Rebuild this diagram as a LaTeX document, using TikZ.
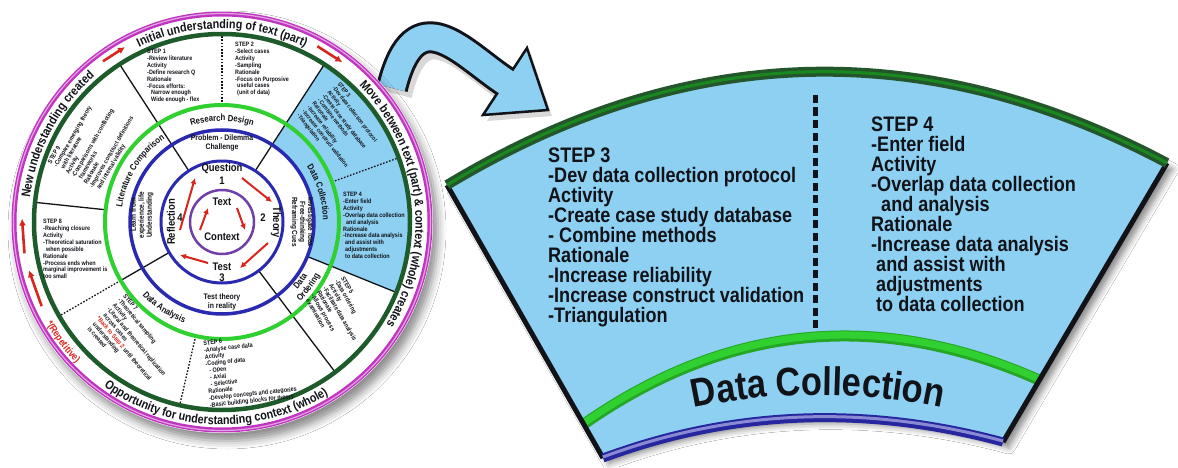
\documentclass[tikz,border=0pt]{standalone}
\usepackage{fontspec}
\setmainfont{Liberation Sans}
\newfontfamily\cf[FakeStretch=0.86]{Liberation Sans}
\usetikzlibrary{decorations.text,arrows.meta,shadows.blur}
\definecolor{lblue}{HTML}{8DD0F2}
\definecolor{dgreen}{HTML}{1E5B2B}
\definecolor{pgreen}{HTML}{24562C}
\definecolor{bgreen}{HTML}{2FD02F}
\definecolor{rblue}{HTML}{2A2AB0}
\definecolor{magring}{HTML}{C035C0}
\definecolor{purp}{HTML}{7040A8}
\definecolor{arrred}{HTML}{D8261E}
\definecolor{ink}{HTML}{111318}
\newcommand{\FOuter}{\cf\bfseries\fontsize{12.5}{12.5}\selectfont}
\newcommand{\FBand}{\cf\bfseries\fontsize{9}{9}\selectfont}
\newcommand{\FRep}{\cf\bfseries\fontsize{10}{10}\selectfont}
\newcommand{\FBig}{\cf\bfseries\fontsize{40}{40}\selectfont}
\tikzset{
  sep/.style={line width=1.3pt, ink},
  dots/.style={sep, dash pattern=on 1.6pt off 1.6pt},
  redarr/.style={arrred, line width=2.6pt, -{Latex[length=7pt,width=7pt]}},
  redarrs/.style={arrred, line width=2pt, -{Latex[length=6pt,width=6pt]}},
  smalltxt/.style={font=\cf\bfseries\fontsize{6.3}{6.9}\selectfont, align=left, inner sep=0pt, text=ink},
  midtxt/.style={font=\cf\bfseries\fontsize{8}{8.6}\selectfont, align=center, inner sep=0pt, text=ink},
  ringtxt/.style={font=\cf\bfseries\fontsize{11}{11}\selectfont, inner sep=0pt, text=ink},
  bigtxt/.style={font=\cf\bfseries\fontsize{21}{20}\selectfont, align=left, inner sep=0pt, text=ink},
  curv/.style={decorate, decoration={text along path, text align=center, text={#1}}},
}
\begin{document}
\begin{tikzpicture}[x=1pt,y=1pt]
\useasboundingbox (0,0) rectangle (1178,467);
\fill[white] (0,0) rectangle (1178,467);

% ---------- curved arrow ----------
\draw[black!30, opacity=0.5, line width=32pt] (396,373) .. controls (419,466) and (466,408) .. (509,379.5);
\fill[black!30, opacity=0.5] (487,346) -- (552,351) -- (531,413) -- cycle;
\draw[ink, line width=32pt] (392,379) .. controls (415,472) and (462,414) .. (505,385.5);
\draw[ink, line width=2.5pt, fill=lblue, line join=miter] (483,352) -- (548,357) -- (527,419) -- cycle;
\draw[lblue, line width=26pt] (392,379) .. controls (415,472) and (462,414) .. (505,385.5) -- (512,381);

% ---------- right panel ----------
\fill[lblue, blur shadow={shadow xshift=6pt, shadow yshift=-6pt, shadow blur radius=6pt, shadow opacity=45}]
  (447,282) .. controls (684,425) and (924,433) .. (1167,304) -- (1003,25)
  .. controls (866,62) and (732,57) .. (603,9) -- cycle;
\begin{scope}
  \clip (447,282) .. controls (684,425) and (924,433) .. (1167,304) -- (1003,25)
  .. controls (866,62) and (732,57) .. (603,9) -- cycle;
  \draw[bgreen!80!black, line width=11pt] (584,43) .. controls (727,143) and (879,158) .. (1039,87);
  \draw[bgreen, line width=7pt] (584,44) .. controls (727,144) and (879,159) .. (1039,88);
  \draw[ink, line width=5pt, dash pattern=on 8pt off 4.5pt] (815,372) -- (815,136);
\end{scope}
\draw[ink, line width=5pt] (447,282) -- (603,9);
\draw[ink, line width=5pt] (1167,304) -- (1003,25);
\draw[pgreen, line width=10pt] (447,282) .. controls (684,425) and (924,433) .. (1167,304);
\draw[pgreen!70!green, line width=3pt] (447,282) .. controls (684,425) and (924,433) .. (1167,304);
\draw[rblue!90!black, line width=9pt] (603,9) .. controls (732,57) and (866,62) .. (1003,25);
\draw[rblue!55!white, line width=3pt] (603,10) .. controls (732,58) and (866,63) .. (1003,26);

\node[bigtxt, anchor=north west] (b3) at (548,319) {STEP 3\\-Dev data collection protocol\\Activity\\-Create case study database\\- Combine methods\\Rationale\\-Increase reliability\\-Increase construct validation\\-Triangulation};
\node[bigtxt, anchor=north west] (b4) at (871,350) {STEP 4\\-Enter field\\Activity\\-Overlap data collection\\\hspace{10pt}and analysis\\Rationale\\-Increase data analysis\\\hspace{5pt}and assist with\\\hspace{5pt}adjustments\\\hspace{5pt}to data collection};
\path[curv={|\FBig\color{ink}|Data Collection}] (818,-528) ++(105:600pt) arc[start angle=105, end angle=75, radius=600pt];

% ---------- circle ----------
\begin{scope}[shift={(222,245)}]
  \fill[white, blur shadow={shadow xshift=5pt, shadow yshift=-8pt, shadow blur radius=8pt, shadow opacity=45}] (0,0) circle[radius=211pt];
  \fill[lblue] (-22:92pt) arc[start angle=-22, end angle=57, radius=92pt] -- (57:188pt) arc[start angle=57, end angle=-22, radius=188pt] -- cycle;
  \draw[sep] (123:61pt) -- (123:188pt);
  \draw[sep] (57:61pt) -- (57:188pt);
  \draw[sep] (-22:92pt) -- (-22:188pt);
  \draw[sep] (-53:61pt) -- (-53:188pt);
  \draw[sep] (210:61pt) -- (210:117pt);
  \draw[sep] (174:117pt) -- (174:188pt);
  \draw[dots] (90:117pt) -- (90:188pt);
  \draw[dots] (20:117pt) -- (20:188pt);
  \draw[dots] (-103:117pt) -- (-103:188pt);
  \draw[dots] (210:117pt) -- (210:188pt);
  \draw[magring, line width=5pt] (0,0) circle[radius=208pt];
  \draw[magring!45!white, line width=1.2pt] (0,0) circle[radius=208.5pt];
  \draw[dgreen, line width=4.5pt] (0,0) circle[radius=188pt];
  \draw[bgreen, line width=4pt] (0,0) circle[radius=117pt];
  \draw[rblue, line width=3.5pt] (0,0) circle[radius=92pt];
  \draw[rblue, line width=3pt] (0,0) circle[radius=61pt];
  \draw[purp, line width=2.5pt] (0,0) circle[radius=32pt];

  % outer band texts
  \path[curv={|\FOuter\color{ink}|New understanding created}] (197:193.5pt) arc[start angle=197, end angle=107, radius=193.5pt];
  \path[curv={|\FOuter\color{ink}|Initial understanding of text (part)}] (135:193.5pt) arc[start angle=135, end angle=45, radius=193.5pt];
  \path[curv={|\FOuter\color{ink}|Move between text (part) {\&} context (whole) creates}] (66.5:193.5pt) arc[start angle=66.5, end angle=-53.5, radius=193.5pt];
  \path[curv={|\FOuter\color{ink}|Opportunity for understanding context (whole)}] (208:202.5pt) arc[start angle=208, end angle=328, radius=202.5pt];
  \path[curv={|\FRep\color{arrred}|*(Repetitive)}] (197:203pt) arc[start angle=197, end angle=237, radius=203pt];
  \draw[redarr] (126.5:200pt) -- (119:200pt);
  \draw[redarr] (61.5:200pt) -- (53:200pt);
  \draw[redarr] (189:200pt) -- (179:200pt);
  \draw[redarr] (205:199pt) -- (194:199pt);

  % band labels
  \path[curv={|\FBand\color{ink}|Research Design}] (130:101pt) arc[start angle=130, end angle=50, radius=101pt];
  \path[curv={|\FBand\color{ink}|Data Collection}] (57:101pt) arc[start angle=57, end angle=-23, radius=101pt];
  \path[curv={|\FBand\color{ink}|Data}] (-67:101pt) arc[start angle=-67, end angle=-7, radius=101pt];
  \path[curv={|\FBand\color{ink}|Ordering}] (-67:111.5pt) arc[start angle=-67, end angle=-7, radius=111.5pt];
  \path[curv={|\FBand\color{ink}|Data Analysis}] (206:108pt) arc[start angle=206, end angle=266, radius=108pt];
  \path[curv={|\FBand\color{ink}|Literature Comparison}] (188:101pt) arc[start angle=188, end angle=108, radius=101pt];

  % inner band texts
  \node[midtxt] (pd) at (0,79) {Problem - Dilemma\\Challenge};
  \node[midtxt, rotate=-90, font=\cf\bfseries\fontsize{7.5}{8}\selectfont] (ii) at (80,0) {Investigate idea\\Free-thinking\\Reframing Cues};
  \node[midtxt] (tt) at (0,-80) {Test theory\\in reality};
  \node[midtxt, rotate=90, font=\cf\bfseries\fontsize{7.5}{8}\selectfont] (lf) at (-80,7) {Learn from\\experience, life\\Understanding};

  % inner ring
  \node[ringtxt] (q) at (0,53) {Question};
  \node[ringtxt] (n1) at (0,41) {1};
  \node[ringtxt, rotate=-90] (th) at (54,0) {Theory};
  \node[ringtxt] (n2) at (41,4) {2};
  \node[ringtxt] (te) at (0,-45) {Test};
  \node[ringtxt] (n3) at (0,-56) {3};
  \node[ringtxt, rotate=90] (re) at (-51,0) {Reflection};
  \node[ringtxt] (n4) at (-42,4) {4};
  \node[ringtxt] (tx) at (0,20) {Text};
  \node[ringtxt] (cx) at (0,-15) {Context};
  \draw[redarrs] (20,44) -- (50,20);
  \draw[redarrs] (46,-21) -- (18,-46);
  \draw[redarrs] (-14,-41) -- (-42,-33);
  \draw[redarrs] (-42,-8) -- (-27,44);
  \draw[redarrs] (15,14) -- (23,-8);
  \draw[redarrs] (-22,-8) -- (-14,14);

  % step texts
  \node[smalltxt, anchor=north west] (s1) at (-75,173) {STEP 1\\-Review literature\\Activity\\-Define research Q\\Rationale\\-Focus efforts:\\\hspace{4pt}Narrow enough\\\hspace{4pt}Wide enough - flex};
  \node[smalltxt, anchor=north west] (s2) at (13,180) {STEP 2\\-Select cases\\Activity\\-Sampling\\Rationale\\-Focus on Purposive\\\hspace{2pt}useful cases\\\hspace{2pt}(unit of data)};
  \node[smalltxt, rotate=-52, font=\cf\bfseries\fontsize{5.8}{6.4}\selectfont] (s3) at (118,95) {STEP 3\\-Dev data collection protocol\\Activity\\-Create case study database\\- Combine methods\\Rationale\\-Increase reliability\\-Increase construct validation\\-Triangulation};
  \node[smalltxt, anchor=north west] (s4) at (121,30) {STEP 4\\-Enter field\\Activity\\-Overlap data collection\\\hspace{3pt}and analysis\\Rationale\\-Increase data analysis\\\hspace{2pt}and assist with\\\hspace{2pt}adjustments\\\hspace{2pt}to data collection};
  \node[smalltxt, rotate=-60] (s5) at (118,-92) {STEP 5\\-Data ordering\\Activity\\-Facilitate data analysis\\Rationale\\-Allows process\\\hspace{2pt}examination};
  \node[smalltxt, rotate=6, anchor=north west] (s6) at (-19,-119) {STEP 6\\-Analyse case data\\Activity\\-Coding of data\\\hspace{3pt}- Open\\\hspace{3pt}- Axial\\\hspace{3pt}- Selective\\Rationale\\-Develop concepts and categories\\-Basic building blocks for theory};
  \node[smalltxt, rotate=-50] (s7) at (-88,-122) {STEP 7\\-Theoretical sampling\\Activity\\-Literal and theoretical replication\\\hspace{2pt}across cases\\{\color{arrred}*Back to Step 2} until theoretical\\\hspace{2pt}understanding\\\hspace{2pt}is created};
  \node[smalltxt, anchor=north west] (s8) at (-179,3) {STEP 8\\-Reaching closure\\Activity\\-Theoretical saturation\\\hspace{3pt}when possible\\Rationale\\-Process ends when\\marginal improvement is\\too small};
  \node[smalltxt, rotate=60] (s9) at (-128,80) {STEP 9\\-Compare emerging theory\\\hspace{2pt}with literature\\Activity\\-Comparisons with conflicting\\\hspace{2pt}frameworks\\Rationale\\-Improves construct definitions\\\hspace{2pt}and internal validity};
\end{scope}
\end{tikzpicture}
\end{document}
